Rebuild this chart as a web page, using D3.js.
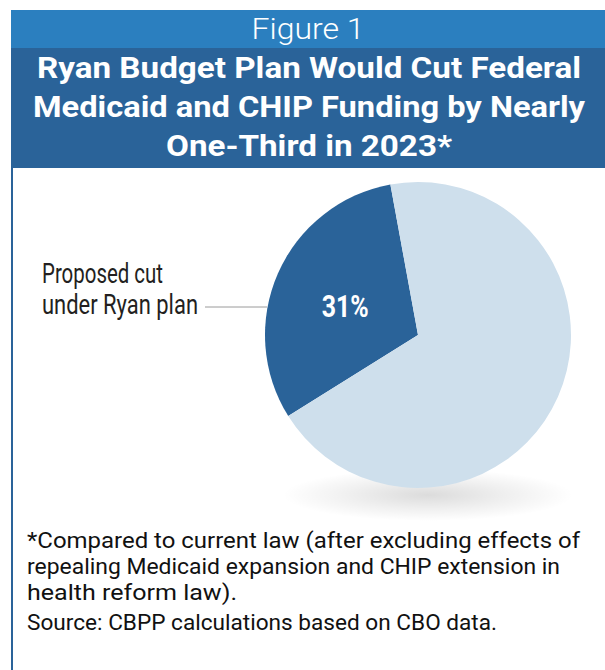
<!DOCTYPE html>
<meta charset="utf-8">
<style>
body { margin: 0; background: #fff; }
svg { display: block; }
</style>
<body>
<svg class="figure"></svg>
<script src="https://d3js.org/d3.v7.min.js"></script>
<script>
// chart size
let rwidth = 605, rheight = 670;

// data
let categories = ['Proposed cut under Ryan plan', 'Rest of federal funding'];
let shares = [31, 69];
let sliceLabels = ['31%', ''];
let calloutLines = ['Proposed cut', 'under Ryan plan'];
let figureLabel = 'Figure 1';
let titleLines = ['Ryan Budget Plan Would Cut Federal',
                  'Medicaid and CHIP Funding by Nearly',
                  'One-Third in 2023*'];
let noteLines = ['*Compared to current law (after excluding effects of',
                 'repealing Medicaid expansion and CHIP extension in',
                 'health reform law).'];
let sourceLine = 'Source: CBPP calculations based on CBO data.';

// colours
let colorCode = ['#2a6399', '#cedfec'];
let darkBlue = '#2a6399', midBlue = '#2b7fbf';

let svg = d3.select('.figure')
            .attr('width', rwidth)
            .attr('height', rheight);

// header bands
svg.append('rect').attr('x', 11).attr('y', 10).attr('width', 594).attr('height', 38).attr('fill', midBlue);
svg.append('rect').attr('x', 11).attr('y', 48).attr('width', 594).attr('height', 120).attr('fill', darkBlue);
// left frame line
svg.append('rect').attr('x', 11).attr('y', 160).attr('width', 2).attr('height', 510).attr('fill', darkBlue);

svg.append('text')
   .attr('x', 308).attr('y', 39)
   .attr('text-anchor', 'middle')
   .style('font-family', 'Roboto, sans-serif')
   .style('font-weight', 300)
   .style('font-size', '29px')
   .attr('textLength', 113).attr('lengthAdjust', 'spacingAndGlyphs')
   .attr('fill', '#fff')
   .text(figureLabel);

let titleWidths = [544, 552, 286];
svg.selectAll('.title')
   .data(titleLines)
   .join('text')
   .attr('class', 'title')
   .attr('x', 309)
   .attr('y', (d, i) => 78 + i * 39)
   .attr('text-anchor', 'middle')
   .style('font-family', 'Roboto, sans-serif')
   .style('font-weight', 700)
   .style('font-size', '30px')
   .attr('textLength', (d, i) => titleWidths[i])
   .attr('lengthAdjust', 'spacingAndGlyphs')
   .attr('fill', '#fff')
   .text(d => d);

// pie
let cx = 418, cy = 335, radius = 153;

// soft shadow under the pie
let defs = svg.append('defs');
let grad = defs.append('radialGradient').attr('id', 'shadow');
grad.append('stop').attr('offset', '0%').attr('stop-color', '#000').attr('stop-opacity', 0.14);
grad.append('stop').attr('offset', '55%').attr('stop-color', '#000').attr('stop-opacity', 0.06);
grad.append('stop').attr('offset', '100%').attr('stop-color', '#000').attr('stop-opacity', 0);
svg.append('ellipse')
   .attr('cx', cx + 10).attr('cy', cy + 160)
   .attr('rx', 145).attr('ry', 26)
   .attr('fill', 'url(#shadow)');

let color = d3.scaleOrdinal().domain(categories).range(colorCode);

let startDeg = 238;
let pie = d3.pie()
  .sort(null)
  .value(d => d.value)
  .startAngle(startDeg * Math.PI / 180)
  .endAngle((startDeg + 360) * Math.PI / 180);

let arcs = pie(categories.map((c, i) => ({name: c, value: shares[i], label: sliceLabels[i]})));
let arc = d3.arc().innerRadius(0).outerRadius(radius);

let g = svg.append('g').attr('transform', `translate(${cx},${cy})`);
g.selectAll('path')
 .data(arcs)
 .join('path')
 .attr('d', arc)
 .attr('fill', d => color(d.data.name));

let labelArc = d3.arc().innerRadius(radius * 0.52).outerRadius(radius * 0.52);
g.selectAll('.pct')
 .data(arcs.filter(d => d.data.label))
 .join('text')
 .attr('class', 'pct')
 .attr('x', d => labelArc.centroid(d)[0])
 .attr('y', d => labelArc.centroid(d)[1] + 14)
 .attr('text-anchor', 'middle')
 .style('font-family', 'Roboto, sans-serif')
 .style('font-weight', 700)
 .style('font-size', '32px')
 .attr('textLength', 47).attr('lengthAdjust', 'spacingAndGlyphs')
 .attr('fill', '#fff')
 .text(d => d.data.label);

// callout
svg.append('line')
   .attr('x1', 205).attr('x2', cx - radius + 2)
   .attr('y1', 307).attr('y2', 307)
   .attr('stroke', '#9a9a9a').attr('stroke-width', 1);

let calloutWidths = [121, 156];
svg.selectAll('.callout')
   .data(calloutLines)
   .join('text')
   .attr('class', 'callout')
   .attr('x', 42)
   .attr('y', (d, i) => 283 + i * 31)
   .style('font-family', 'Roboto, sans-serif')
   .style('font-size', '27px')
   .attr('textLength', (d, i) => calloutWidths[i])
   .attr('lengthAdjust', 'spacingAndGlyphs')
   .attr('fill', '#231f20')
   .text(d => d);

// notes
let noteWidths = [553, 533, 210];
svg.selectAll('.note')
   .data(noteLines)
   .join('text')
   .attr('class', 'note')
   .attr('x', 27)
   .attr('y', (d, i) => 548 + i * 26)
   .style('font-family', 'Roboto, sans-serif')
   .style('font-size', '22px')
   .attr('textLength', (d, i) => noteWidths[i])
   .attr('lengthAdjust', 'spacingAndGlyphs')
   .attr('fill', '#111')
   .text(d => d);

svg.append('text')
   .attr('x', 27).attr('y', 630)
   .style('font-family', 'Roboto, sans-serif')
   .style('font-size', '22px')
   .attr('textLength', 470).attr('lengthAdjust', 'spacingAndGlyphs')
   .attr('fill', '#111')
   .text(sourceLine);
</script>
</body>
